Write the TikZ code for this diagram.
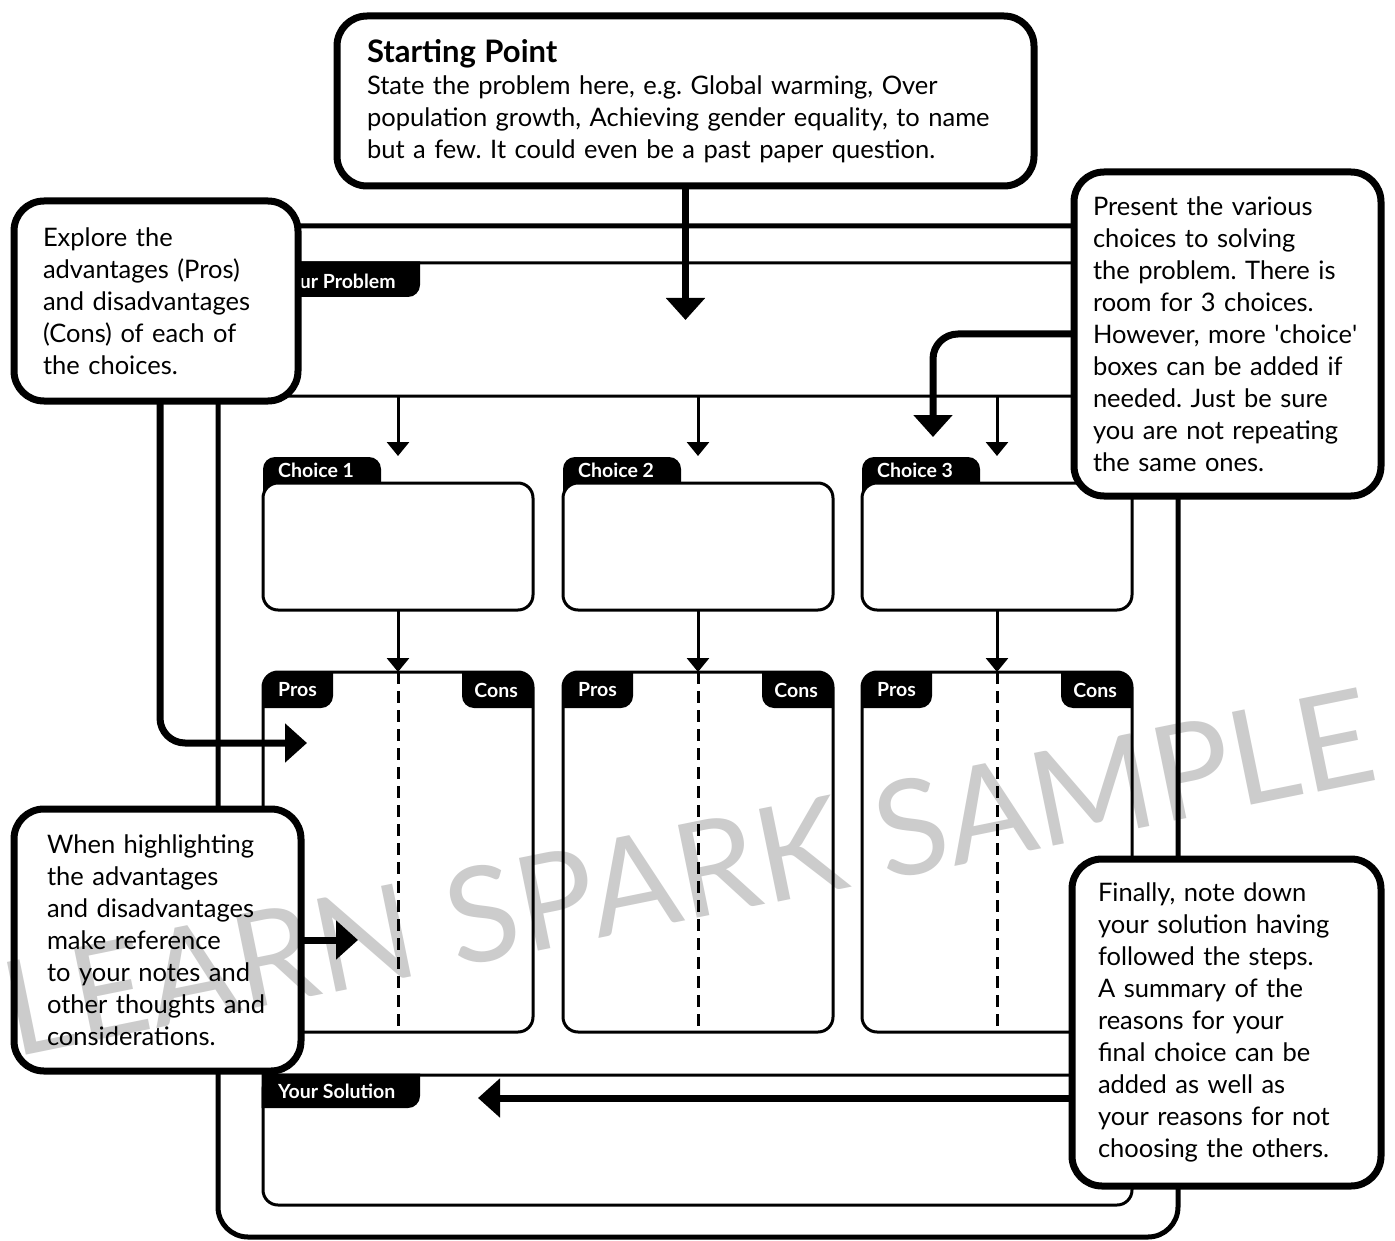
\documentclass[tikz,border=0pt]{standalone}
\usepackage{fontspec}
\setmainfont{Lato}
\usetikzlibrary{positioning, arrows.meta}

\newcommand{\bodyfont}{\fontsize{25.5}{32}\selectfont}
\newcommand{\titlefont}{\fontsize{31}{33}\selectfont\bfseries}
\newcommand{\tabfont}{\fontsize{19.5}{22}\selectfont\bfseries}
\frenchspacing

\definecolor{wmgrey}{RGB}{204,204,204}

\tikzset{
  callout/.style={draw, fill=white, line width=7pt, rounded corners=30pt, anchor=north west, outer sep=0pt, align=left, font=\bodyfont, inner ysep=0pt},
  inbox/.style={draw, line width=3pt, rounded corners=15pt, anchor=north west, outer sep=0pt, inner sep=0pt},
  tablabel/.style={text=white, font=\tabfont, inner sep=0pt},
  thinarrow/.style={line width=3pt, -{Triangle[length=14pt, width=22pt]}},
  bigarrow/.style={line width=7pt, -{Triangle[length=22pt, width=38pt]}},
  divider/.style={line width=3pt, dash pattern=on 12pt off 7pt},
}

\begin{document}
\begin{tikzpicture}[x=1pt, y=-1pt]
  \fill[white] (0,0) rectangle (1395,1241);
  \useasboundingbox (0,0) rectangle (1395,1241);

  % outer frame
  \node[draw, line width=5pt, rounded corners=30pt, anchor=north west, outer sep=0pt, inner sep=0pt, minimum width=960pt, minimum height=1011pt] (frame) at (218,226) {};

  % Your Problem
  \node[inbox, minimum width=870pt, minimum height=133pt] (prob) at (263,263) {};
  \fill (261.5,261.5) -- (420,261.5) -- (420,285) arc[start angle=0, end angle=90, radius=12] -- (261.5,297) -- cycle;
  \node[tablabel, anchor=west] (probtab) at (278,281) {Your Problem};

  % choices with pros and cons
  \foreach \i/\x in {1/263, 2/563, 3/862} {
    \fill[rounded corners=12pt] (\x,457) rectangle ++(118,53);
    \node[inbox, fill=white, minimum width=270pt, minimum height=127pt] (c\i) at (\x,483) {};
    \node[tablabel, anchor=west] (ct\i) at (\x+15,470) {Choice \i};
    \node[inbox, minimum width=270pt, minimum height=360pt] (pc\i) at (\x,672) {};
    \fill (\x,687) arc[start angle=180, end angle=270, radius=15] -- (\x+70,672) -- (\x+70,696) arc[start angle=0, end angle=90, radius=12] -- (\x,708) -- cycle;
    \fill (\x+270,687) arc[start angle=0, end angle=-90, radius=15] -- (\x+199,672) -- (\x+199,696) arc[start angle=180, end angle=90, radius=12] -- (\x+270,708) -- cycle;
    \node[tablabel, anchor=west] (pro\i) at (\x+15,690) {Pros};
    \node[tablabel, anchor=east] (con\i) at (\x+255,690) {Cons};
  }

  % Your Solution
  \node[inbox, minimum width=869pt, minimum height=130pt] (sol) at (263,1075) {};
  \fill (261.5,1073.5) -- (420,1073.5) -- (420,1096) arc[start angle=0, end angle=90, radius=12] -- (261.5,1108) -- cycle;
  \node[tablabel, anchor=west] (soltab) at (278,1091) {Your Solution};

  % thin arrows and dividers
  \foreach \i in {1,2,3} {
    \draw[divider] (pc\i.north) -- (pc\i.south);
    \draw[thinarrow] (prob.south -| c\i.north) -- ([yshift=27pt]c\i.north);
    \draw[thinarrow] (c\i.south) -- (pc\i.north);
  }

  % notes
  \node[callout, inner xsep=30pt, text width=637pt, minimum height=170pt] (start) at (337,16)
    {{\titlefont Starting Point}\\
     State the problem here, e.g. Global warming, Over\\
     population growth, Achieving gender equality, to name\\
     but a few. It could even be a past paper question.};
  \node[callout, inner xsep=29pt, text width=226pt, minimum height=200pt] (explore) at (14,201)
    {Explore the\\ advantages (Pros)\\ and disadvantages\\ (Cons) of each of\\ the choices.};
  \node[callout, inner xsep=19pt, text width=269pt, minimum height=324pt] (present) at (1074,172)
    {Present the various\\ choices to solving\\ the problem. There is\\ room for 3 choices.\\
     However, more {\textquotesingle}choice{\textquotesingle}\\ boxes can be added if\\
     needed. Just be sure\\ you are not repeating\\ the same ones.};
  \node[callout, inner xsep=33pt, text width=221pt, minimum height=262pt] (highlight) at (14,809)
    {When highlighting\\ the advantages\\ and disadvantages\\ make reference\\
     to your notes and\\ other thoughts and\\ considerations.};
  \node[callout, inner xsep=26pt, text width=257pt, minimum height=327pt] (final) at (1072,859)
    {Finally, note down\\ your solution having\\ followed the steps.\\ A summary of the\\
     reasons for your\\ final choice can be\\ added as well as\\ your reasons for not\\
     choosing the others.};

  % thick arrows
  \coordinate (probtip) at (685.5,320);
  \coordinate (c3tip) at (933,437);
  \coordinate (prostip) at (307,743);
  \coordinate (hltip) at (358,940);
  \coordinate (soltip) at (478,1098);
  \draw[bigarrow] (start.south) -- (probtip);
  \draw[bigarrow, rounded corners=25pt] (present.west) -| (c3tip);
  \draw[bigarrow, rounded corners=25pt] ([xshift=4pt]explore.south) |- (prostip);
  \draw[bigarrow] (highlight.east |- hltip) -- (hltip);
  \draw[bigarrow] (final.west |- soltip) -- (soltip);

  % watermark
  \begin{scope}[blend mode=multiply]
    \node[text=wmgrey, font=\fontsize{132}{132}\selectfont, rotate=11.5] (mark) at (688,872) {LEARN SPARK SAMPLE};
  \end{scope}
\end{tikzpicture}
\end{document}
